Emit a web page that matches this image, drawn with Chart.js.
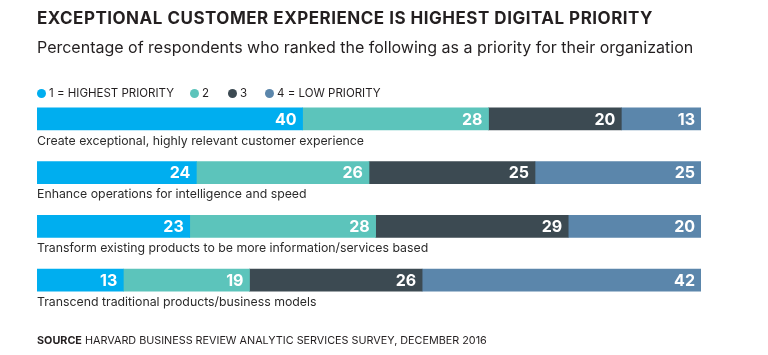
<!DOCTYPE html>
<html><head><meta charset="utf-8">
<script src="https://cdn.jsdelivr.net/npm/chart.js@4.4.1/dist/chart.umd.min.js"></script>
<style>
body{margin:0;background:#fff;}
#wrap{position:relative;width:768px;height:355px;font-family:Inter,Roboto,"Liberation Sans",sans-serif;color:#231f20;overflow:hidden;}
#c{position:absolute;left:0;top:0;}
.t{position:absolute;white-space:nowrap;}
.dot{position:absolute;width:9px;height:9px;border-radius:50%;top:89px;}
.lg{position:absolute;top:86px;font-size:11.5px;line-height:14px;color:#231f20;white-space:nowrap;}
</style></head><body>
<div id="wrap">
<canvas id="c" width="768" height="355"></canvas>
<div class="t" id="title" style="left:37px;top:8px;font-size:17px;letter-spacing:0.5px;font-weight:700;line-height:20px;color:#231f20">EXCEPTIONAL CUSTOMER EXPERIENCE IS HIGHEST DIGITAL PRIORITY</div>
<div class="t" id="subtitle" style="left:37px;top:37px;font-size:16px;line-height:20px;color:#231f20">Percentage of respondents who ranked the following as a priority for their organization</div>
<div id="legend"></div>
<div class="t" id="source" style="left:37px;top:334px;font-size:10.8px;line-height:14px;color:#231f20"><b>SOURCE</b> HARVARD BUSINESS REVIEW ANALYTIC SERVICES SURVEY, DECEMBER 2016</div>
</div>
<script>
const categories = [
  "Create exceptional, highly relevant customer experience",
  "Enhance operations for intelligence and speed",
  "Transform existing products to be more information/services based",
  "Transcend traditional products/business models"
];
const seriesNames = ["1 = HIGHEST PRIORITY", "2", "3", "4 = LOW PRIORITY"];
const priority1 = [40, 24, 23, 13];
const priority2 = [28, 26, 28, 19];
const priority3 = [20, 25, 29, 26];
const priority4 = [13, 25, 20, 42];

const seriesColors = ["#00aeef", "#5cc4bb", "#3c4a52", "#5b86ab"];
const legendX = [37, 190, 228, 265];

// legend (HTML)
const lg = document.getElementById('legend');
seriesNames.forEach((n, i) => {
  const d = document.createElement('div');
  d.className = 'dot';
  d.style.left = legendX[i] + 'px';
  d.style.background = seriesColors[i];
  lg.appendChild(d);
  const t = document.createElement('div');
  t.className = 'lg';
  t.style.left = (legendX[i] + 12) + 'px';
  t.textContent = n;
  lg.appendChild(t);
});

const seriesData = [priority1, priority2, priority3, priority4];
const FONT = 'Inter, Roboto, "Liberation Sans", sans-serif';

const labelPlugin = {
  id: 'labels',
  afterDatasetsDraw(chart) {
    const ctx = chart.ctx;
    const area = chart.chartArea;
    ctx.save();
    ctx.font = 'bold 16px ' + FONT;
    ctx.fillStyle = '#ffffff';
    ctx.textAlign = 'right';
    ctx.textBaseline = 'middle';
    chart.data.datasets.forEach((ds, di) => {
      const meta = chart.getDatasetMeta(di);
      meta.data.forEach((el, i) => {
        const x = Math.min(el.x, area.right) - 6;
        ctx.fillText(String(ds.data[i]), x, el.y + 1);
      });
    });
    const meta0 = chart.getDatasetMeta(0);
    ctx.font = '12.3px ' + FONT;
    ctx.fillStyle = '#2b2b2b';
    ctx.textAlign = 'left';
    meta0.data.forEach((el, i) => {
      ctx.fillText(chart.data.labels[i], area.left, el.y + 22);
    });
    ctx.restore();
  }
};

new Chart(document.getElementById('c'), {
  type: 'bar',
  data: {
    labels: categories,
    datasets: seriesData.map((d, i) => ({
      label: seriesNames[i],
      data: d,
      backgroundColor: seriesColors[i],
      borderWidth: 0,
      barThickness: 22
    }))
  },
  options: {
    indexAxis: 'y',
    responsive: false,
    animation: false,
    devicePixelRatio: 1,
    layout: { padding: { left: 37, right: 67, top: 92, bottom: 48 } },
    scales: {
      x: { stacked: true, min: 0, max: 100, display: false },
      y: { stacked: true, display: false }
    },
    plugins: {
      legend: { display: false },
      title: { display: false },
      tooltip: { enabled: false }
    }
  },
  plugins: [labelPlugin]
});
</script>
</body></html>
